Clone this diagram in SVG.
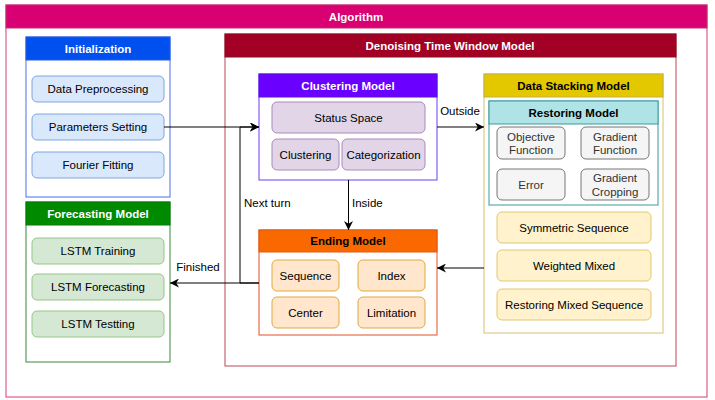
<svg xmlns="http://www.w3.org/2000/svg" width="715" height="400" viewBox="0 0 715 400">
<style>
text{font-family:"Liberation Sans",Arial,sans-serif;font-size:11.5px;fill:#000;text-anchor:middle;dominant-baseline:central}
.t{font-weight:bold}
.w{fill:#fff}
.it{stroke-width:1}
.blue{fill:#dae8fc;stroke:#7ea6e0}
.green{fill:#d5e8d4;stroke:#97c587}
.purple{fill:#e1d5e7;stroke:#a98bbd}
.grey{fill:#f5f5f5;stroke:#777}
.grey+text,.gt{fill:#333}
.yel{fill:#fff2cc;stroke:#e0c870}
.org{fill:#ffe6cc;stroke:#e0aa40}
.edge{fill:none;stroke:#000;stroke-width:1}
.lbl{text-anchor:start}
</style>
<defs>
<marker id="arr" viewBox="0 0 10 10" refX="10" refY="5" markerWidth="9" markerHeight="9" markerUnits="userSpaceOnUse" orient="auto">
<path d="M0,0 L10,5 L0,10 L3,5 z" fill="#000"/>
</marker>
</defs>

<g id="algorithm">
<rect x="6" y="5" width="701" height="392" fill="#fff" stroke="#d83a7a"/>
<rect x="6" y="5" width="701" height="23" fill="#d80073" stroke="#c0306a"/>
<text x="356" y="17" class="t w">Algorithm</text>
</g>

<g id="initialization">
<rect x="26" y="37" width="144" height="160" fill="#fff" stroke="#4d6fe8"/>
<rect x="26" y="37" width="144" height="23" fill="#0050ef" stroke="#2a5be0"/>
<text x="98" y="49" class="t w">Initialization</text>
</g>
<g id="data-preprocessing"><rect x="32" y="76" width="132" height="26" rx="5" class="blue"/><text x="98" y="89">Data Preprocessing</text></g>
<g id="parameters-setting"><rect x="32" y="114" width="132" height="26" rx="5" class="blue"/><text x="98" y="127">Parameters Setting</text></g>
<g id="fourier-fitting"><rect x="32" y="152" width="132" height="26" rx="5" class="blue"/><text x="98" y="165">Fourier Fitting</text></g>

<g id="forecasting-model">
<rect x="26" y="202" width="144" height="160" fill="#fff" stroke="#3a8a3a"/>
<rect x="26" y="202" width="144" height="23" fill="#008a00" stroke="#0a7a0a"/>
<text x="98" y="214" class="t w">Forecasting Model</text>
</g>
<g id="lstm-training"><rect x="32" y="238" width="132" height="26" rx="5" class="green"/><text x="98" y="251">LSTM Training</text></g>
<g id="lstm-forecasting"><rect x="32" y="274" width="132" height="26" rx="5" class="green"/><text x="98" y="287">LSTM Forecasting</text></g>
<g id="lstm-testting"><rect x="32" y="311" width="132" height="26" rx="5" class="green"/><text x="98" y="324">LSTM Testting</text></g>

<g id="denoising">
<rect x="225" y="34" width="451" height="332" fill="#fff" stroke="#b84a5a"/>
<rect x="225" y="34" width="451" height="23" fill="#a20025" stroke="#8a1020"/>
<text x="450" y="45.5" class="t w">Denoising Time Window Model</text>
</g>

<g id="clustering-model">
<rect x="259" y="74" width="178" height="106" fill="#fff" stroke="#6a3cff"/>
<rect x="259" y="74" width="178" height="23" fill="#6a00ff" stroke="#5a10e0"/>
<text x="348" y="85.5" class="t w">Clustering Model</text>
</g>
<g id="status-space"><rect x="272" y="102" width="153" height="31" rx="5" class="purple"/><text x="348.5" y="117.5">Status Space</text></g>
<g id="clustering"><rect x="272" y="139" width="67" height="31" rx="5" class="purple"/><text x="305.5" y="154.5">Clustering</text></g>
<g id="categorization"><rect x="342" y="139" width="83" height="31" rx="5" class="purple"/><text x="383.5" y="154.5">Categorization</text></g>

<g id="data-stacking-model">
<rect x="484" y="74" width="179" height="259" fill="#fff" stroke="#d6c070"/>
<rect x="484" y="74" width="179" height="23" fill="#e3c800" stroke="#c8b040"/>
<text x="573.5" y="85.5" class="t">Data Stacking Model</text>
</g>
<g id="restoring-model">
<rect x="489" y="101" width="169" height="104" fill="#fff" stroke="#3a9aa0"/>
<rect x="489" y="101" width="169" height="23" fill="#b0e3e6" stroke="#3a9aa0"/>
<text x="573.5" y="112.5" class="t">Restoring Model</text>
</g>
<g id="objective-function"><rect x="497" y="127" width="68" height="32" rx="5" class="grey"/><text x="531" y="136.5" class="gt">Objective</text><text x="531" y="150" class="gt">Function</text></g>
<g id="gradient-function"><rect x="581" y="127" width="68" height="32" rx="5" class="grey"/><text x="615" y="136.5" class="gt">Gradient</text><text x="615" y="150" class="gt">Function</text></g>
<g id="error"><rect x="497" y="169" width="68" height="31" rx="5" class="grey"/><text x="531" y="184.5" class="gt">Error</text></g>
<g id="gradient-cropping"><rect x="581" y="169" width="68" height="31" rx="5" class="grey"/><text x="615" y="177.5" class="gt">Gradient</text><text x="615" y="192" class="gt">Cropping</text></g>
<g id="symmetric-sequence"><rect x="497" y="212" width="154" height="31" rx="5" class="yel"/><text x="574" y="227.5">Symmetric Sequence</text></g>
<g id="weighted-mixed"><rect x="497" y="250" width="154" height="31" rx="5" class="yel"/><text x="574" y="265.5">Weighted Mixed</text></g>
<g id="restoring-mixed-sequence"><rect x="497" y="289" width="154" height="31" rx="5" class="yel"/><text x="574" y="304.5">Restoring Mixed Sequence</text></g>

<g id="ending-model">
<rect x="259" y="230" width="178" height="105" fill="#fff" stroke="#e0502a"/>
<rect x="259" y="230" width="178" height="22" fill="#fa6800" stroke="#e05a10"/>
<text x="348" y="241" class="t">Ending Model</text>
</g>
<g id="sequence"><rect x="272" y="260" width="67" height="31" rx="5" class="org"/><text x="305.5" y="275.5">Sequence</text></g>
<g id="index"><rect x="358" y="260" width="67" height="31" rx="5" class="org"/><text x="391.5" y="275.5">Index</text></g>
<g id="center"><rect x="272" y="297" width="67" height="31" rx="5" class="org"/><text x="305.5" y="312.5">Center</text></g>
<g id="limitation"><rect x="358" y="297" width="67" height="31" rx="5" class="org"/><text x="391.5" y="312.5">Limitation</text></g>

<g id="connectors">
<path class="edge" d="M164,127 H259" marker-end="url(#arr)"/>
<path class="edge" d="M437,127 H484" marker-end="url(#arr)"/>
<path class="edge" d="M348.5,180 V230" marker-end="url(#arr)"/>
<path class="edge" d="M259,283 H170" marker-end="url(#arr)"/>
<path class="edge" d="M259,283 H240 V127 H259" marker-end="url(#arr)"/>
<path class="edge" d="M484,268 H437" marker-end="url(#arr)"/>
<text x="460" y="111">Outside</text>
<text x="352" y="203" class="lbl">Inside</text>
<text x="244" y="203" class="lbl">Next turn</text>
<text x="198" y="267">Finished</text>
</g>
</svg>
